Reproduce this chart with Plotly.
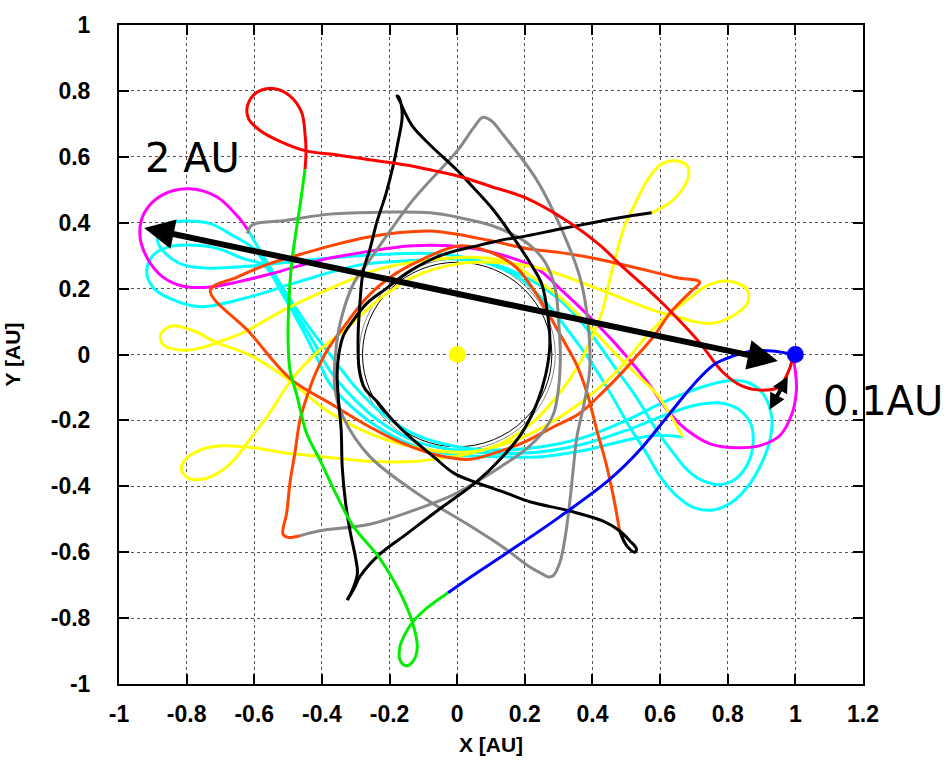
import plotly.graph_objects as go

# ---- tick labels ----
X_TICKS = [-1, -0.8, -0.6, -0.4, -0.2, 0, 0.2, 0.4, 0.6, 0.8, 1, 1.2]
X_TICK_TEXT = ["-1", "-0.8", "-0.6", "-0.4", "-0.2", "0", "0.2", "0.4", "0.6", "0.8", "1", "1.2"]
Y_TICKS = [-1, -0.8, -0.6, -0.4, -0.2, 0, 0.2, 0.4, 0.6, 0.8, 1]
Y_TICK_TEXT = ["-1", "-0.8", "-0.6", "-0.4", "-0.2", "0", "0.2", "0.4", "0.6", "0.8", "1"]

# ---- bodies ----
SUN = (0.0, 0.0)
PLANET = (1.0, 0.0)
ORBIT_R_BLACK = 0.28
ORBIT_R_GRAY = 0.29

# ---- trajectory segments (AU, rotating frame) ----
red_x = [-0.45, -0.447, -0.45, -0.46, -0.495, -0.545, -0.593, -0.62, -0.617, -0.583, -0.524, -0.447,
         -0.35, -0.266, -0.15, -0.07, 0.008, 0.1, 0.206, 0.333, 0.422, 0.49, 0.545, 0.599, 0.66, 0.717,
         0.785, 0.845, 0.915, 0.953, 0.983, 0.992]
red_y = [0.562, 0.618, 0.67, 0.735, 0.785, 0.807, 0.795, 0.755, 0.716, 0.68, 0.647, 0.618,
         0.605, 0.592, 0.575, 0.558, 0.54, 0.51, 0.474, 0.40, 0.332, 0.265, 0.215, 0.164, 0.1, 0.036,
         -0.053, -0.097, -0.108, -0.097, -0.043, -0.005]

green_x = [-0.45, -0.465, -0.48, -0.49, -0.498, -0.5, -0.494, -0.475, -0.445, -0.406, -0.36, -0.308,
           -0.228, -0.17, -0.14, -0.125, -0.118, -0.13, -0.15, -0.168, -0.17, -0.155, -0.13, -0.09, -0.027]
green_y = [0.562, 0.45, 0.35, 0.27, 0.15, 0.04, -0.05, -0.12, -0.24, -0.32, -0.42, -0.52,
           -0.62, -0.72, -0.79, -0.84, -0.89, -0.93, -0.945, -0.93, -0.89, -0.85, -0.81, -0.77, -0.723]

blue_x = [-0.027, 0.04, 0.15, 0.3, 0.45, 0.54, 0.62, 0.7, 0.76, 0.815, 0.87, 0.94, 0.99]
blue_y = [-0.723, -0.675, -0.6, -0.495, -0.38, -0.29, -0.19, -0.09, -0.03, -0.005, 0.01, 0.01, 0.0]

magenta_x = [0.99, 1.0, 1.003, 0.99, 0.955, 0.9, 0.83, 0.75, 0.68, 0.63, 0.56, 0.47, 0.39, 0.31,
             0.235, 0.14, 0.03, -0.13, -0.28, -0.41, -0.55, -0.66, -0.74, -0.81, -0.87, -0.915,
             -0.938, -0.925, -0.87, -0.79, -0.71, -0.65, -0.62]
magenta_y = [0.0, -0.05, -0.11, -0.18, -0.245, -0.275, -0.283, -0.272, -0.23, -0.18, -0.08, 0.03,
             0.116, 0.194, 0.262, 0.3, 0.325, 0.33, 0.31, 0.285, 0.245, 0.218, 0.204, 0.207, 0.235,
             0.29, 0.36, 0.43, 0.485, 0.503, 0.478, 0.42, 0.38]

cyan_x = [
    # first sweep past the star and the wide right-hand loop
    -0.62, -0.58, -0.52, -0.45, -0.376, -0.3, -0.22, -0.12, 0.0, 0.12, 0.25, 0.38, 0.5, 0.62, 0.72,
    0.8, 0.86, 0.905, 0.93, 0.925, 0.9, 0.86, 0.81, 0.756, 0.7, 0.65, 0.6, 0.56, 0.51, 0.46, 0.4,
    0.33, 0.26, 0.18, 0.08, -0.05, -0.2, -0.35, -0.5, -0.62, -0.73, -0.81, -0.858, -0.885, -0.88,
    -0.858, -0.8, -0.73, -0.662, -0.6,
    # second sweep and the narrower right-hand loop
    -0.55, -0.48, -0.42, -0.376, -0.3, -0.22, -0.12, 0.0, 0.12, 0.25, 0.38, 0.5, 0.6, 0.7, 0.776,
    0.83, 0.868, 0.875, 0.86, 0.82, 0.77, 0.72, 0.68, 0.64, 0.59, 0.53, 0.46, 0.39, 0.31, 0.22,
    0.12, 0.0, -0.14, -0.287, -0.465, -0.613, -0.76, -0.85, -0.9, -0.918, -0.9, -0.858, -0.8,
    -0.71, -0.63, -0.57,
    # third sweep
    -0.52, -0.46, -0.41, -0.376, -0.3, -0.22, -0.12, 0.0, 0.12, 0.25, 0.38, 0.5, 0.59, 0.667]
cyan_y = [
    0.38, 0.31, 0.21, 0.1, 0.0, -0.1, -0.18, -0.245, -0.28, -0.29, -0.28, -0.25, -0.2, -0.14, -0.1,
    -0.08, -0.085, -0.12, -0.19, -0.26, -0.33, -0.4, -0.45, -0.472, -0.465, -0.43, -0.37, -0.3,
    -0.22, -0.13, -0.03, 0.07, 0.16, 0.235, 0.28, 0.305, 0.305, 0.295, 0.28, 0.268, 0.262, 0.272,
    0.302, 0.34, 0.375, 0.397, 0.405, 0.397, 0.36, 0.32,
    0.245, 0.13, 0.03, -0.05, -0.14, -0.21, -0.265, -0.29, -0.3, -0.295, -0.27, -0.23, -0.19, -0.155,
    -0.147, -0.165, -0.21, -0.27, -0.33, -0.38, -0.395, -0.38, -0.35, -0.3, -0.23, -0.13, -0.03,
    0.07, 0.16, 0.225, 0.27, 0.29, 0.285, 0.272, 0.222, 0.175, 0.145, 0.17, 0.204, 0.253, 0.3,
    0.325, 0.332, 0.322, 0.29, 0.27,
    0.19, 0.08, -0.02, -0.09, -0.17, -0.23, -0.28, -0.305, -0.31, -0.31, -0.29, -0.26, -0.245, -0.25]

yellow_x = [
    0.575, 0.628, 0.665, 0.685, 0.678, 0.64, 0.6, 0.56, 0.525, 0.495, 0.472, 0.45, 0.43, 0.4, 0.36,
    0.3, 0.23, 0.14, 0.04, -0.05, -0.13, -0.26, -0.4, -0.5, -0.6, -0.632, -0.7, -0.76, -0.805,
    -0.815, -0.795, -0.75, -0.7, -0.66, -0.632, -0.6, -0.563, -0.485, -0.41, -0.327, -0.228, -0.13,
    0.0, 0.1, 0.235, 0.43, 0.58, 0.648, 0.7, 0.756, 0.82, 0.86, 0.855, 0.8, 0.74, 0.68, 0.628,
    0.56, 0.47, 0.333, 0.185, 0.038, -0.11, -0.258, -0.386, -0.494, -0.613, -0.711, -0.78, -0.84,
    -0.875, -0.87, -0.81, -0.75, -0.711, -0.633, -0.515, -0.376, -0.228, -0.08, 0.05, 0.15, 0.224,
    0.303, 0.39, 0.47, 0.53, 0.59, 0.628, 0.667]
yellow_y = [
    0.43, 0.46, 0.5, 0.545, 0.575, 0.588, 0.575, 0.525, 0.455, 0.39, 0.31, 0.223, 0.134, 0.056,
    -0.03, -0.12, -0.2, -0.265, -0.3, -0.315, -0.325, -0.324, -0.31, -0.3, -0.283, -0.28, -0.277,
    -0.29, -0.32, -0.35, -0.375, -0.378, -0.355, -0.32, -0.283, -0.24, -0.19, -0.07, 0.01, 0.08,
    0.17, 0.235, 0.275, 0.28, 0.264, 0.194, 0.134, 0.115, 0.1, 0.095, 0.12, 0.16, 0.2, 0.223,
    0.21, 0.165, 0.125, 0.056, -0.053, -0.17, -0.255, -0.295, -0.285, -0.24, -0.17, -0.08, -0.002,
    0.036, 0.072, 0.087, 0.065, 0.03, 0.013, 0.022, 0.036, 0.066, 0.134, 0.2, 0.26, 0.287, 0.295,
    0.28, 0.234, 0.175, 0.087, 0.0, -0.06, -0.12, -0.18, -0.25]

orange_arc_x = [0.48, 0.465, 0.44, 0.413, 0.385, 0.354, 0.31, 0.274, 0.23, 0.176, 0.1, 0.008, -0.1,
                -0.2, -0.27, -0.327, -0.38, -0.42, -0.445, -0.465, -0.48, -0.494, -0.504, -0.515,
                -0.5, -0.465]
orange_arc_y = [-0.535, -0.447, -0.33, -0.23, -0.12, -0.033, 0.05, 0.116, 0.19, 0.263, 0.31, 0.33,
                0.29, 0.233, 0.17, 0.095, 0.02, -0.06, -0.13, -0.2, -0.3, -0.386, -0.48, -0.545,
                -0.555, -0.55]

orange_loop_x = [-0.73, -0.65, -0.563, -0.46, -0.366, -0.27, -0.17, -0.08, 0.0, 0.1, 0.205, 0.3, 0.4,
                 0.5, 0.57, 0.65, 0.717, 0.69, 0.66, 0.628, 0.585, 0.54, 0.49, 0.43, 0.36, 0.284, 0.2,
                 0.136, 0.038, -0.06, -0.16, -0.258, -0.376, -0.494, -0.613, -0.73]
orange_loop_y = [0.195, 0.235, 0.273, 0.305, 0.332, 0.355, 0.37, 0.375, 0.365, 0.345, 0.322, 0.31,
                 0.293, 0.27, 0.253, 0.233, 0.22, 0.19, 0.16, 0.124, 0.06, 0.006, -0.052, -0.115,
                 -0.18, -0.22, -0.265, -0.29, -0.318, -0.305, -0.27, -0.22, -0.148, -0.073, 0.066, 0.195]

gray_arc_x = [-0.62, -0.61, -0.585, -0.523, -0.376, -0.228, -0.08, 0.008, 0.106, 0.205, 0.26, 0.29,
              0.3, 0.305, 0.3, 0.285, 0.25, 0.2, 0.13, 0.058, -0.02, -0.11, -0.258, -0.406, -0.465]
gray_arc_y = [0.367, 0.39, 0.4, 0.405, 0.426, 0.432, 0.43, 0.415, 0.39, 0.34, 0.28, 0.2,
              0.1, 0.0, -0.1, -0.18, -0.24, -0.29, -0.34, -0.386, -0.43, -0.466, -0.515, -0.535, -0.55]

gray_tri_x = [0.076, 0.1, 0.136, 0.235, 0.313, 0.363, 0.386, 0.392, 0.375, 0.354, 0.343, 0.333, 0.32,
              0.304, 0.285, 0.27, 0.25, 0.215, 0.136, 0.038, -0.11, -0.258, -0.337, -0.362, -0.36,
              -0.345, -0.307, -0.248, -0.13, 0.0, 0.05, 0.076]
gray_tri_y = [0.72, 0.71, 0.667, 0.53, 0.37, 0.234, 0.104, -0.044, -0.15, -0.25, -0.35, -0.447,
              -0.55, -0.63, -0.67, -0.675, -0.665, -0.645, -0.585, -0.52, -0.427, -0.31, -0.19,
              -0.1, 0.0, 0.1, 0.214, 0.302, 0.47, 0.618, 0.69, 0.72]

black_a_x = [0.575, 0.48, 0.4, 0.3, 0.205, 0.13, 0.067, -0.05, -0.14, -0.21, -0.267, -0.31, -0.337,
             -0.35, -0.355, -0.35, -0.343, -0.34, -0.33, -0.317, -0.3, -0.295, -0.31, -0.325]
black_a_y = [0.43, 0.415, 0.4, 0.38, 0.36, 0.347, 0.332, 0.3, 0.253, 0.2, 0.155, 0.1, 0.056,
             0.0, -0.06, -0.15, -0.23, -0.34, -0.45, -0.535, -0.62, -0.665, -0.715, -0.745]

black_b_x = [-0.325, -0.305, -0.287, -0.228, -0.15, -0.06, 0.058, 0.13, 0.19, 0.235, 0.262, 0.274,
             0.268, 0.25, 0.224, 0.176, 0.106, 0.04, 0.0, -0.08, -0.13, -0.155, -0.17, -0.178,
             -0.172, -0.165, -0.163, -0.175, -0.19, -0.21, -0.238, -0.258, -0.278, -0.288, -0.293,
             -0.29, -0.275, -0.238, -0.19, -0.14, -0.07, -0.01, 0.06, 0.136, 0.215, 0.333, 0.43,
             0.48, 0.51, 0.53, 0.525, 0.505, 0.49, 0.48]
black_b_y = [-0.745, -0.71, -0.673, -0.605, -0.545, -0.475, -0.386, -0.315, -0.24, -0.15, -0.06, 0.03,
             0.12, 0.214, 0.264, 0.34, 0.44, 0.515, 0.559, 0.636, 0.69, 0.735, 0.77, 0.785,
             0.78, 0.755, 0.716, 0.645, 0.57, 0.49, 0.4, 0.32, 0.252, 0.15, 0.056,
             -0.044, -0.1, -0.142, -0.2, -0.25, -0.31, -0.36, -0.39, -0.417, -0.447, -0.475, -0.505,
             -0.535, -0.565, -0.59, -0.6, -0.585, -0.56, -0.535]

# ---- arrows and labels ----
LONG_ARROW = dict(x0=-0.93, y0=0.385, x1=0.948, y1=-0.02)
SHORT_ARROW = dict(x0=0.98, y0=-0.062, x1=0.924, y1=-0.167)

segments = [
    (cyan_x, cyan_y, "#00ffff"),
    (magenta_x, magenta_y, "#ff00ff"),
    (yellow_x, yellow_y, "#ffff00"),
    (orange_loop_x, orange_loop_y, "#ff4500"),
    (orange_arc_x, orange_arc_y, "#ff4500"),
    (gray_tri_x, gray_tri_y, "#888888"),
    (gray_arc_x, gray_arc_y, "#888888"),
    (black_a_x, black_a_y, "#000000"),
    (black_b_x, black_b_y, "#000000"),
    (red_x, red_y, "#ff0000"),
    (green_x, green_y, "#00ee00"),
    (blue_x, blue_y, "#0000ff"),
]

fig = go.Figure()
for xs, ys, col in segments:
    fig.add_trace(go.Scatter(x=xs, y=ys, mode="lines", line=dict(color=col, width=3),
                             line_shape="spline", hoverinfo="skip", showlegend=False))

fig.add_trace(go.Scatter(x=[SUN[0]], y=[SUN[1]], mode="markers",
                         marker=dict(color="#ffff00", size=17), showlegend=False))
fig.add_trace(go.Scatter(x=[PLANET[0]], y=[PLANET[1]], mode="markers",
                         marker=dict(color="#0000ff", size=17), showlegend=False))

# thin reference orbits around the star
for r, col in [(ORBIT_R_GRAY, "#888888"), (ORBIT_R_BLACK, "#000000")]:
    fig.add_shape(type="circle", xref="x", yref="y", x0=SUN[0] - r, x1=SUN[0] + r,
                  y0=SUN[1] - r, y1=SUN[1] + r, line=dict(color=col, width=1), layer="below")

for arr, w, s in [(LONG_ARROW, 6, 1.0), (SHORT_ARROW, 4, 0.8)]:
    fig.add_annotation(x=arr["x1"], y=arr["y1"], ax=arr["x0"], ay=arr["y0"],
                       xref="x", yref="y", axref="x", ayref="y", text="",
                       showarrow=True, arrowhead=2, startarrowhead=2, arrowside="end+start",
                       arrowwidth=w, arrowsize=s, startarrowsize=s, arrowcolor="#000000")

fig.add_annotation(x=-0.784, y=0.597, xref="x", yref="y", text="2 AU", showarrow=False,
                   xanchor="center", yanchor="middle",
                   font=dict(family="DejaVu Sans", size=40, color="#000000"))
fig.add_annotation(x=1.027, y=0.43, xref="paper", yref="paper", text="0.1AU", showarrow=False,
                   xanchor="center", yanchor="middle",
                   font=dict(family="DejaVu Sans", size=40, color="#000000"))

axis_common = dict(
    showgrid=True, gridcolor="#555555", griddash="dot", gridwidth=1,
    zeroline=False, showline=True, linecolor="#000000", linewidth=2, mirror="ticks",
    ticks="inside", ticklen=10, tickwidth=2, tickcolor="#000000",
    tickfont=dict(family="Liberation Sans", size=23, color="#000000", weight="bold"),
)
title_font = dict(family="Liberation Sans", size=21, color="#000000", weight="bold")

fig.update_layout(
    width=950, height=765,
    margin=dict(l=119, r=87, t=14, b=74),
    paper_bgcolor="white", plot_bgcolor="white",
    xaxis=dict(range=[-1, 1.2], tickvals=X_TICKS, ticktext=X_TICK_TEXT, ticklabelstandoff=8,
               title=dict(text="X [AU]", standoff=12, font=title_font),
               **axis_common),
    yaxis=dict(range=[-1, 1], tickvals=Y_TICKS, ticktext=Y_TICK_TEXT, ticklabelstandoff=22,
               title=dict(text="Y [AU]", standoff=24, font=title_font),
               **axis_common),
)

fig.write_html("out.html")
